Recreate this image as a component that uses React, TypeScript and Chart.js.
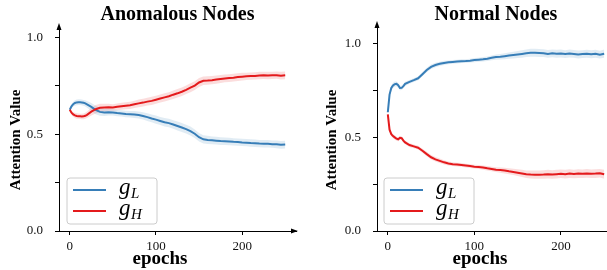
import React, { useEffect, useRef } from "react";
import { Chart, registerables } from "chart.js";

Chart.register(...registerables);

// ---------------- data ----------------
const epochs = [0, 2, 4, 6, 8, 10, 12, 14, 16, 18, 20, 25, 30, 35, 40, 45, 50, 55, 60, 65, 70, 75, 80, 85, 90, 95, 100, 105, 110, 115, 120, 125, 130, 135, 140, 145, 150, 155, 160, 165, 170, 175, 180, 185, 190, 195, 200, 205, 210, 215, 220, 225, 230, 235, 240, 245, 250];

// Anomalous nodes
const anomGL = [0.627, 0.645, 0.656, 0.662, 0.665, 0.666, 0.666, 0.665, 0.663, 0.66, 0.655, 0.642, 0.626, 0.616, 0.613, 0.614, 0.613, 0.61, 0.608, 0.605, 0.604, 0.603, 0.6, 0.595, 0.589, 0.582, 0.576, 0.569, 0.562, 0.558, 0.551, 0.543, 0.535, 0.527, 0.517, 0.503, 0.485, 0.474, 0.471, 0.469, 0.467, 0.465, 0.464, 0.463, 0.461, 0.46, 0.458, 0.457, 0.455, 0.454, 0.452, 0.451, 0.451, 0.449, 0.448, 0.446, 0.447];
const anomGLStd = [0.008, 0.01, 0.012, 0.014, 0.015, 0.015, 0.015, 0.015, 0.015, 0.016, 0.017, 0.02, 0.022, 0.02, 0.018, 0.017, 0.016, 0.016, 0.016, 0.017, 0.017, 0.018, 0.018, 0.019, 0.02, 0.02, 0.021, 0.021, 0.022, 0.022, 0.022, 0.023, 0.023, 0.023, 0.023, 0.022, 0.022, 0.021, 0.021, 0.02, 0.02, 0.02, 0.019, 0.019, 0.019, 0.019, 0.019, 0.019, 0.019, 0.019, 0.019, 0.019, 0.019, 0.019, 0.02, 0.02, 0.02];
const anomGH = [0.627, 0.612, 0.603, 0.598, 0.595, 0.594, 0.593, 0.592, 0.593, 0.596, 0.601, 0.617, 0.63, 0.637, 0.639, 0.64, 0.639, 0.642, 0.645, 0.648, 0.65, 0.655, 0.66, 0.664, 0.669, 0.673, 0.679, 0.685, 0.691, 0.697, 0.705, 0.712, 0.72, 0.73, 0.741, 0.752, 0.768, 0.777, 0.778, 0.78, 0.783, 0.786, 0.789, 0.791, 0.793, 0.796, 0.798, 0.8, 0.801, 0.802, 0.804, 0.805, 0.804, 0.805, 0.806, 0.803, 0.805];
const anomGHStd = [0.008, 0.01, 0.012, 0.013, 0.014, 0.014, 0.014, 0.014, 0.015, 0.016, 0.017, 0.02, 0.022, 0.021, 0.019, 0.018, 0.017, 0.017, 0.018, 0.018, 0.019, 0.019, 0.02, 0.02, 0.02, 0.021, 0.021, 0.021, 0.021, 0.021, 0.022, 0.022, 0.022, 0.022, 0.023, 0.023, 0.023, 0.022, 0.022, 0.021, 0.021, 0.021, 0.02, 0.02, 0.02, 0.02, 0.02, 0.019, 0.019, 0.019, 0.019, 0.019, 0.019, 0.019, 0.019, 0.02, 0.02];

// Normal nodes
const normGL = [0.633, 0.727, 0.762, 0.776, 0.783, 0.784, 0.777, 0.762, 0.763, 0.772, 0.784, 0.795, 0.804, 0.814, 0.836, 0.858, 0.875, 0.885, 0.891, 0.896, 0.899, 0.901, 0.903, 0.905, 0.906, 0.908, 0.911, 0.913, 0.915, 0.918, 0.923, 0.927, 0.929, 0.932, 0.935, 0.938, 0.941, 0.944, 0.947, 0.95, 0.95, 0.949, 0.948, 0.944, 0.947, 0.945, 0.946, 0.943, 0.946, 0.944, 0.941, 0.943, 0.945, 0.942, 0.945, 0.94, 0.945];
const normGLStd = [0.006, 0.012, 0.014, 0.014, 0.014, 0.013, 0.013, 0.012, 0.012, 0.011, 0.011, 0.01, 0.01, 0.01, 0.011, 0.012, 0.012, 0.012, 0.011, 0.011, 0.01, 0.01, 0.01, 0.01, 0.01, 0.01, 0.011, 0.011, 0.012, 0.012, 0.013, 0.014, 0.015, 0.016, 0.017, 0.018, 0.019, 0.02, 0.02, 0.021, 0.021, 0.021, 0.021, 0.021, 0.021, 0.021, 0.021, 0.021, 0.021, 0.021, 0.021, 0.021, 0.021, 0.021, 0.021, 0.021, 0.022];
const normGH = [0.622, 0.54, 0.516, 0.506, 0.499, 0.492, 0.489, 0.497, 0.495, 0.482, 0.472, 0.458, 0.451, 0.444, 0.428, 0.41, 0.393, 0.382, 0.374, 0.366, 0.36, 0.356, 0.354, 0.352, 0.349, 0.346, 0.343, 0.341, 0.338, 0.334, 0.331, 0.327, 0.325, 0.322, 0.318, 0.315, 0.311, 0.307, 0.303, 0.301, 0.3, 0.3, 0.301, 0.303, 0.301, 0.303, 0.305, 0.303, 0.306, 0.304, 0.306, 0.305, 0.307, 0.305, 0.306, 0.308, 0.302];
const normGHStd = [0.006, 0.01, 0.011, 0.011, 0.011, 0.011, 0.01, 0.01, 0.01, 0.01, 0.01, 0.01, 0.01, 0.01, 0.011, 0.012, 0.012, 0.012, 0.012, 0.011, 0.011, 0.01, 0.01, 0.01, 0.01, 0.01, 0.01, 0.011, 0.011, 0.012, 0.012, 0.013, 0.014, 0.015, 0.016, 0.017, 0.018, 0.019, 0.02, 0.021, 0.022, 0.022, 0.023, 0.023, 0.023, 0.023, 0.023, 0.023, 0.023, 0.023, 0.023, 0.023, 0.023, 0.023, 0.023, 0.023, 0.024];

const xTicks = [0, 100, 200];
const yTicks = [0, 0.25, 0.5, 0.75, 1.0];
const yTickLabels = ["0.0", "", "0.5", "", "1.0"];
const seriesNames = ["g", "g"];
const seriesSubs = ["L", "H"];

// ---------------- styling ----------------
const BLUE = "#377eb8";
const RED = "#e41a1c";
const BLUE_BAND = "rgba(55,126,184,0.15)";
const RED_BAND = "rgba(228,26,28,0.15)";
const SERIF = '"Liberation Serif", "Times New Roman", serif';

type Panel = {
  title: string;
  gl: number[];
  glStd: number[];
  gh: number[];
  ghStd: number[];
  left: number;
  width: number;
  yAxisWidth: number;
  padRight: number;
  titleTop: number;
  titleBottom: number;
  yMax: number;
  yTitleX: number;
  yTitleY: number;
  xTitleX: number;
  xTitleY: number;
  legendX: number;
  legendY: number;
};

const panels: Panel[] = [
  {
    title: "Anomalous Nodes",
    gl: anomGL, glStd: anomGLStd, gh: anomGH, ghStd: anomGHStd,
    left: 0, width: 300, yAxisWidth: 59, padRight: 4,
    titleTop: 5, titleBottom: 2, yMax: 1.055,
    yTitleX: 16, yTitleY: 140, xTitleX: 160, xTitleY: 259,
    legendX: 67, legendY: 178,
  },
  {
    title: "Normal Nodes",
    gl: normGL, glStd: normGLStd, gh: normGH, ghStd: normGHStd,
    left: 300, width: 320, yAxisWidth: 77, padRight: 5,
    titleTop: 5, titleBottom: 0, yMax: 1.098,
    yTitleX: 32, yTitleY: 140, xTitleX: 180, xTitleY: 259,
    legendX: 84, legendY: 178,
  },
];

const pts = (vals: number[], off: number[] | null, sign: number) =>
  epochs.map((e, i) => ({ x: e, y: vals[i] + (off ? sign * off[i] : 0) }));

const decorPlugin = {
  id: "decor",
  afterDraw(chart: any, _args: any, opts: any) {
    const ctx = chart.ctx as CanvasRenderingContext2D;
    const { left, right, top, bottom } = chart.chartArea;
    ctx.save();
    // arrows
    ctx.fillStyle = "#000";
    ctx.beginPath();
    ctx.moveTo(left, top - 4);
    ctx.lineTo(left - 2.5, top + 3);
    ctx.lineTo(left + 2.5, top + 3);
    ctx.closePath();
    ctx.fill();
    ctx.beginPath();
    ctx.moveTo(right + 2, bottom);
    ctx.lineTo(right - 5, bottom - 2.5);
    ctx.lineTo(right - 5, bottom + 2.5);
    ctx.closePath();
    ctx.fill();

    // axis titles
    ctx.fillStyle = "#000";
    ctx.textAlign = "center";
    ctx.textBaseline = "middle";
    ctx.font = `bold 15px ${SERIF}`;
    ctx.save();
    ctx.translate(opts.yTitleX, opts.yTitleY);
    ctx.rotate(-Math.PI / 2);
    ctx.fillText("Attention Value", 0, 0);
    ctx.restore();
    ctx.font = `bold 19px ${SERIF}`;
    ctx.fillText("epochs", opts.xTitleX, opts.xTitleY);

    // legend
    const lx = opts.legendX, ly = opts.legendY, lw = 90, lh = 46;
    ctx.beginPath();
    const r = 3;
    ctx.moveTo(lx + r, ly);
    ctx.lineTo(lx + lw - r, ly);
    ctx.arcTo(lx + lw, ly, lx + lw, ly + r, r);
    ctx.lineTo(lx + lw, ly + lh - r);
    ctx.arcTo(lx + lw, ly + lh, lx + lw - r, ly + lh, r);
    ctx.lineTo(lx + r, ly + lh);
    ctx.arcTo(lx, ly + lh, lx, ly + lh - r, r);
    ctx.lineTo(lx, ly + r);
    ctx.arcTo(lx, ly, lx + r, ly, r);
    ctx.closePath();
    ctx.fillStyle = "rgba(255,255,255,0.8)";
    ctx.fill();
    ctx.strokeStyle = "#cccccc";
    ctx.lineWidth = 1;
    ctx.stroke();

    const colors = [BLUE, RED];
    const rowsY = [ly + 12, ly + 33];
    for (let i = 0; i < 2; i++) {
      const y = rowsY[i];
      ctx.strokeStyle = colors[i];
      ctx.lineWidth = 2;
      ctx.beginPath();
      ctx.moveTo(lx + 6, y);
      ctx.lineTo(lx + 39, y);
      ctx.stroke();
      ctx.fillStyle = "#000";
      ctx.textAlign = "left";
      ctx.textBaseline = "alphabetic";
      ctx.font = `italic 23px ${SERIF}`;
      const gx = lx + 52;
      ctx.fillText(seriesNames[i], gx, y + 4);
      const gw = ctx.measureText(seriesNames[i]).width;
      ctx.font = `italic 15px ${SERIF}`;
      ctx.fillText(seriesSubs[i], gx + gw + 0.5, y + 8);
    }
    ctx.restore();
  },
};

function ChartPanel({ p }: { p: Panel }) {
  const ref = useRef<HTMLCanvasElement | null>(null);
  useEffect(() => {
    if (!ref.current) return;
    const line = (vals: number[], color: string, order: number) => ({
      data: pts(vals, null, 0),
      borderColor: color,
      backgroundColor: color,
      borderWidth: 2,
      pointRadius: 0,
      fill: false,
      order,
    });
    const band = (vals: number[], std: number[], sign: number, color: string, fill: any) => ({
      data: pts(vals, std, sign),
      borderColor: "rgba(0,0,0,0)",
      borderWidth: 0,
      backgroundColor: color,
      pointRadius: 0,
      fill,
      order: 3,
    });
    const chart = new Chart(ref.current, {
      type: "line",
      data: {
        datasets: [
          line(p.gl, BLUE, 1),
          line(p.gh, RED, 0),
          band(p.gl, p.glStd, 1, BLUE_BAND, false),
          band(p.gl, p.glStd, -1, BLUE_BAND, "-1"),
          band(p.gh, p.ghStd, 1, RED_BAND, false),
          band(p.gh, p.ghStd, -1, RED_BAND, "-1"),
        ] as any,
      },
      options: {
        animation: false,
        responsive: false,
        devicePixelRatio: 1,
        events: [],
        layout: { padding: { left: 0, right: p.padRight, top: 0, bottom: 0 } },
        plugins: {
          legend: { display: false },
          tooltip: { enabled: false },
          title: {
            display: true,
            text: p.title,
            fullSize: false,
            color: "#000",
            font: { family: SERIF, size: 20, weight: "bold", lineHeight: 1 },
            padding: { top: p.titleTop, bottom: p.titleBottom },
          },
          decor: {
            yTitleX: p.yTitleX, yTitleY: p.yTitleY,
            xTitleX: p.xTitleX, xTitleY: p.xTitleY,
            legendX: p.legendX, legendY: p.legendY,
          },
        } as any,
        scales: {
          x: {
            type: "linear",
            min: -12.5,
            max: 262.5,
            afterFit: (s: any) => { s.height = 39; },
            afterBuildTicks: (s: any) => { s.ticks = xTicks.map((v) => ({ value: v })); },
            grid: { display: true, drawOnChartArea: false, drawTicks: true, tickLength: 4, color: "#000" },
            border: { display: true, color: "#000", width: 1 },
            ticks: {
              font: { family: SERIF, size: 13 },
              color: "#111",
              padding: 4,
              maxRotation: 0,
              autoSkip: false,
              callback: (v: any) => String(v),
            },
          },
          y: {
            type: "linear",
            min: 0,
            max: p.yMax,
            afterFit: (s: any) => { s.width = p.yAxisWidth; },
            afterBuildTicks: (s: any) => { s.ticks = yTicks.map((v) => ({ value: v })); },
            grid: { display: true, drawOnChartArea: false, drawTicks: true, tickLength: 4, color: "#000" },
            border: { display: true, color: "#000", width: 1 },
            ticks: {
              font: { family: SERIF, size: 13 },
              color: "#111",
              padding: 12,
              autoSkip: false,
              callback: (_v: any, i: number) => yTickLabels[i],
            },
          },
        },
      },
      plugins: [decorPlugin],
    });
    return () => chart.destroy();
  }, [p]);
  return (
    <canvas
      ref={ref}
      width={p.width}
      height={270}
      style={{ position: "absolute", left: p.left, top: 0, width: p.width, height: 270 }}
    />
  );
}

export default function App() {
  return (
    <div
      style={{
        position: "absolute",
        left: 0,
        top: 0,
        width: 607,
        height: 270,
        overflow: "hidden",
        background: "#fff",
      }}
    >
      {panels.map((p) => (
        <ChartPanel key={p.title} p={p} />
      ))}
    </div>
  );
}
